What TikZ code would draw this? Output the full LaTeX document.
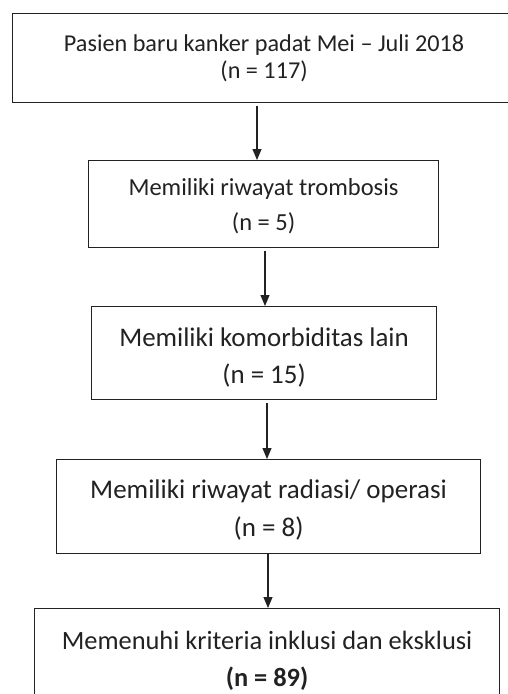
\documentclass[tikz,border=0pt]{standalone}
\usepackage{fontspec}
\setmainfont{Carlito}
\usetikzlibrary{arrows.meta}
\definecolor{ink}{HTML}{222222}
\begin{document}
\begin{tikzpicture}[x=1pt,y=-1pt,
  boxstyle/.style={draw=ink, line width=1.1pt, rectangle, inner sep=0pt, align=center, text=ink, anchor=north west},
  arr/.style={draw=ink, line width=1.1pt, -{Triangle[length=11pt,width=9pt]}}]
\useasboundingbox[fill=white] (0,0) rectangle (507,694);
\node[boxstyle, minimum width=503pt, minimum height=89pt, font=\fontsize{24.2}{27}\selectfont] (b1) at (12,13)
  {Pasien baru kanker padat Mei -- Juli 2018\\(n = 117)};
\node[boxstyle, minimum width=350pt, minimum height=87pt, font=\fontsize{24.5}{35}\selectfont] (b2) at (88,160)
  {\rule{0pt}{21.5pt}Memiliki riwayat trombosis\\(n = 5)};
\node[boxstyle, minimum width=345pt, minimum height=93pt, font=\fontsize{26.9}{37}\selectfont] (b3) at (91,306)
  {\rule{0pt}{27pt}Memiliki komorbiditas lain\\(n = 15)};
\node[boxstyle, minimum width=424pt, minimum height=94pt, font=\fontsize{27}{38}\selectfont] (b4) at (56,459)
  {\rule{0pt}{25.5pt}Memiliki riwayat radiasi/ operasi\\(n = 8)};
\node[boxstyle, minimum width=465pt, minimum height=101pt, font=\fontsize{26.4}{37}\selectfont] (b5) at (34,608)
  {\rule{0pt}{22pt}Memenuhi kriteria inklusi dan eksklusi\\\textbf{(n = 89)}};
\coordinate (x1) at (257,0);
\coordinate (x2) at (265,0);
\coordinate (x3) at (267,0);
\coordinate (x4) at (268,0);
\draw[arr, shorten <=3pt] (b1.south -| x1) -- (b2.north -| x1);
\draw[arr, shorten <=3pt] (b2.south -| x2) -- (b3.north -| x2);
\draw[arr, shorten <=3pt] (b3.south -| x3) -- (b4.north -| x3);
\draw[arr] (b4.south -| x4) -- (b5.north -| x4);
\end{tikzpicture}
\end{document}
